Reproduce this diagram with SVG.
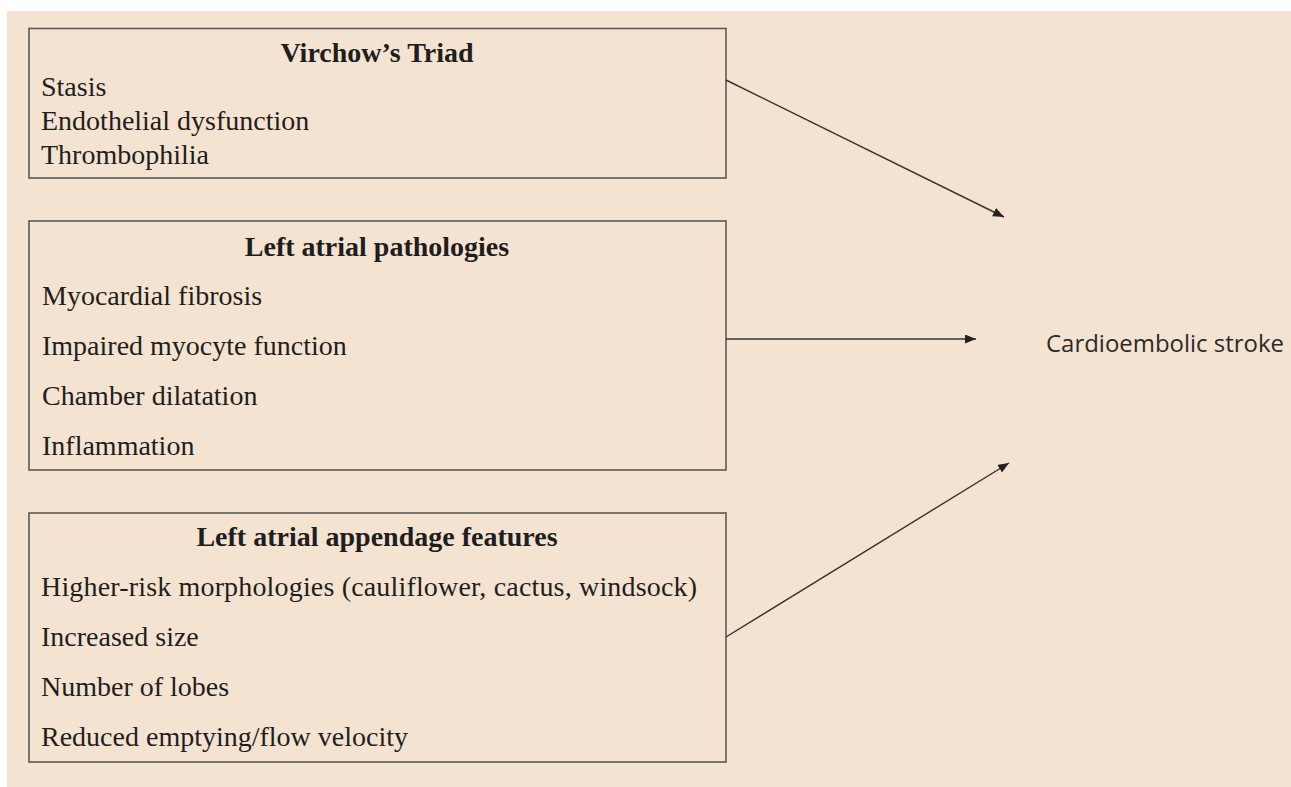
<svg xmlns="http://www.w3.org/2000/svg" width="1291" height="787" viewBox="0 0 1291 787">
<style>
.box{fill:none;stroke:#5a5a5a;stroke-width:1.6}
.t{font-family:"Liberation Serif","Times New Roman",serif;font-size:28px;fill:#1e1e1e}
.h{font-weight:bold;text-anchor:middle}
.lbl{font-family:"Open Sans","Liberation Sans",sans-serif;font-size:24px;fill:#2a2a2a}
.c{stroke:#333;stroke-width:1.4;fill:none}
</style>
<defs>
<marker id="ah" markerUnits="userSpaceOnUse" markerWidth="12" markerHeight="10" refX="11" refY="4.5" orient="auto">
<path d="M0,0 L11,4.5 L0,9 z" fill="#222"/>
</marker>
</defs>
<rect x="0" y="0" width="1291" height="787" fill="#ffffff"/>
<rect x="7" y="11" width="1284" height="776" fill="#F4E3D0"/>
<g id="virchow">
<rect class="box" x="29" y="28.5" width="697" height="149.5"/>
<text class="t h" x="377" y="62">Virchow’s Triad</text>
<text class="t" x="41" y="96">Stasis</text>
<text class="t" x="41" y="130">Endothelial dysfunction</text>
<text class="t" x="41" y="164">Thrombophilia</text>
</g>
<g id="la-pathologies">
<rect class="box" x="29" y="221" width="697" height="249"/>
<text class="t h" x="377" y="256">Left atrial pathologies</text>
<text class="t" x="42" y="305">Myocardial fibrosis</text>
<text class="t" x="42" y="355">Impaired myocyte function</text>
<text class="t" x="42" y="405">Chamber dilatation</text>
<text class="t" x="42" y="455">Inflammation</text>
</g>
<g id="laa-features">
<rect class="box" x="29" y="513" width="697" height="249"/>
<text class="t h" x="377" y="546">Left atrial appendage features</text>
<text class="t" x="41" y="596" textLength="656" lengthAdjust="spacing">Higher-risk morphologies (cauliflower, cactus, windsock)</text>
<text class="t" x="41" y="646">Increased size</text>
<text class="t" x="41" y="696">Number of lobes</text>
<text class="t" x="41" y="746">Reduced emptying/flow velocity</text>
</g>
<g id="stroke">
<text class="lbl" x="1046" y="352" textLength="238" lengthAdjust="spacingAndGlyphs">Cardioembolic stroke</text>
</g>
<g id="connectors">
<line class="c" x1="726" y1="80" x2="1004" y2="217" marker-end="url(#ah)"/>
<line class="c" x1="726" y1="339" x2="976" y2="339" marker-end="url(#ah)"/>
<line class="c" x1="726" y1="637" x2="1009" y2="463" marker-end="url(#ah)"/>
</g>
</svg>
